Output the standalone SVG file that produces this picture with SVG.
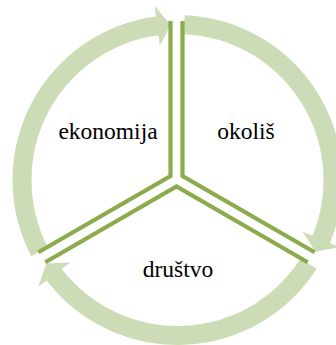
<svg xmlns="http://www.w3.org/2000/svg" width="336" height="345" viewBox="0 0 336 345">
<style>
.arrow{fill:#CCDCB6;stroke:none}
.div{fill:none;stroke:#8CAB4C;stroke-width:4.2;stroke-linecap:butt;stroke-linejoin:miter}
.lbl{font-size:23.5px;fill:#000;text-anchor:middle}
</style>
<rect width="336" height="345" fill="#fff"/>
<g id="connectors">
<path id="arrow-ekonomija" class="arrow" d="M31.143,256.189 A165,165 0 0 1 155.963,16.412 L154.592,6.002 L170.717,24.648 L159.813,45.660 L158.443,35.250 A146,146 0 0 0 47.997,247.416 Z"/>
<path id="arrow-okolis" class="arrow" d="M184.697,15.157 A165,165 0 0 1 329.940,243.143 L339.641,247.161 L315.430,251.802 L302.686,231.854 L312.386,235.872 A146,146 0 0 0 183.869,34.139 Z"/>
<path id="arrow-drustvo" class="arrow" d="M316.659,268.655 A165,165 0 0 1 46.597,280.445 L38.267,286.837 L46.353,263.550 L70.001,262.487 L61.671,268.879 A146,146 0 0 0 300.635,258.446 Z"/>
</g>
<g id="dividers">
<polyline class="div" points="170.5,21 170.5,176.04 38.4,252.3"/>
<polyline class="div" points="182.5,21 182.5,176.04 314.6,252.3"/>
<polyline class="div" points="45.3,262.2 176.5,186.4 307.7,262.2"/>
</g>
<g id="node-ekonomija"><text class="lbl" font-family="'Liberation Serif', 'DejaVu Serif', serif" x="108" y="139">ekonomija</text></g>
<g id="node-okolis"><text class="lbl" font-family="'Liberation Serif', 'DejaVu Serif', serif" x="246" y="139">okoliš</text></g>
<g id="node-drustvo"><text class="lbl" font-family="'Liberation Serif', 'DejaVu Serif', serif" x="178" y="277">društvo</text></g>
</svg>
